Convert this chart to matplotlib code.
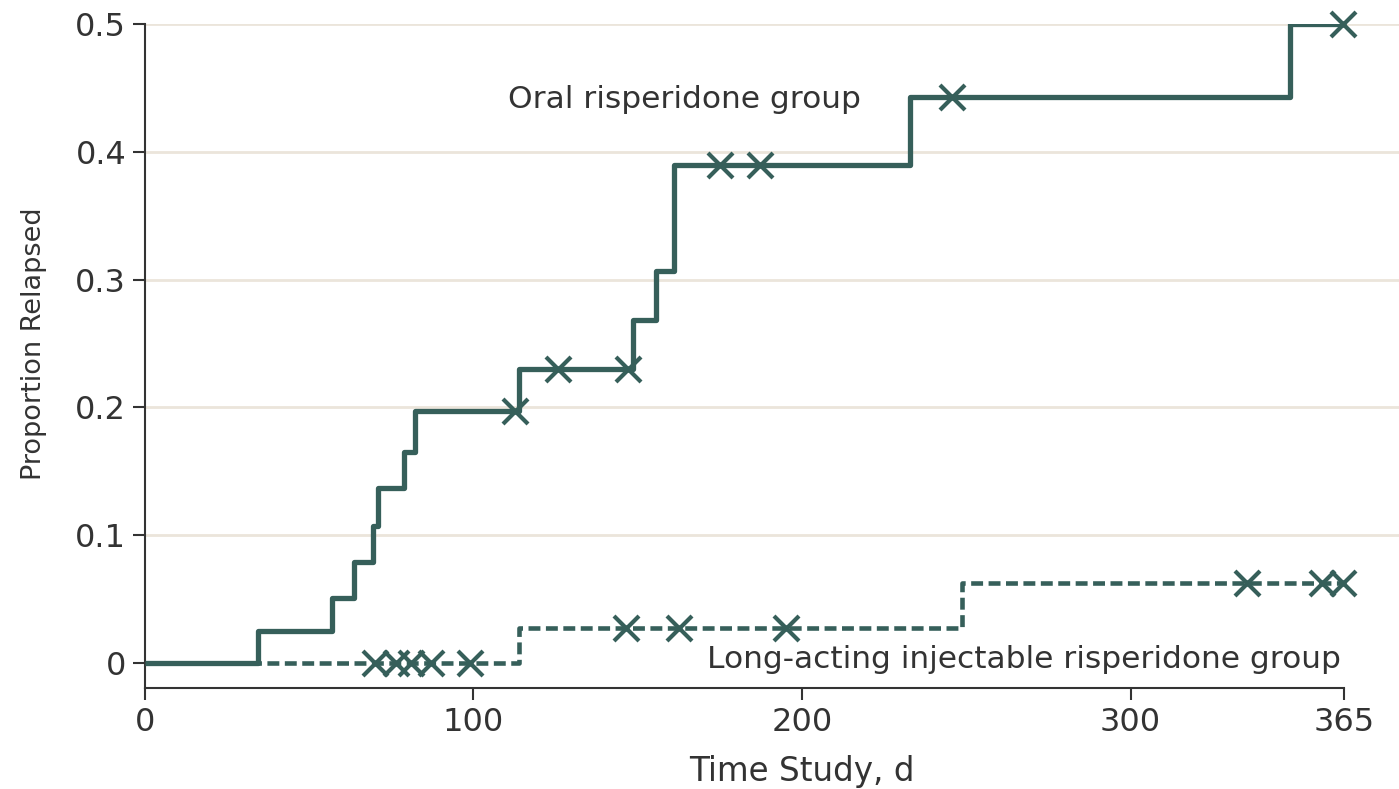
import matplotlib
matplotlib.use("Agg")
import matplotlib.pyplot as plt
import numpy as np

# === data ===
study_end = 365

oral_times = [0, 34.5, 57, 63.5, 69.5, 70.8, 78.8, 82.2, 114, 148.7, 155.6, 161, 232.9, 348.6]
oral_prop = [0, 0.025, 0.051, 0.079, 0.107, 0.137, 0.165, 0.197, 0.23, 0.268, 0.307, 0.39, 0.443, 0.5]
oral_censor = [112.6, 125.8, 146.9, 175, 187.2, 245.7, 364.7]

lai_times = [0, 114, 248.7]
lai_prop = [0, 0.0274, 0.0626]
lai_censor = [70, 76.5, 81, 87, 99, 146.4, 162.6, 195, 335.4, 358.2, 364.8]

x_ticks = [0, 100, 200, 300, 365]
y_ticks = [0, 0.1, 0.2, 0.3, 0.4, 0.5]
y_labels = ["0", "0.1", "0.2", "0.3", "0.4", "0.5"]

line_col = "#365f5a"
text_col = "#333333"
grid_col = "#ebe5db"

plt.rcParams["font.family"] = ["DejaVu Sans"]


def step_value(times, props, t):
    # value of the step curve (post) at time t
    idx = np.searchsorted(times, t, side="right") - 1
    return np.array(props)[idx]


fig = plt.figure(figsize=(13.99, 7.89), dpi=100)
ax = fig.add_axes([0.1036, 0.128, 1 - 0.1036, 0.9696 - 0.128])

# grid
for yv in y_ticks[1:]:
    ax.axhline(yv, color=grid_col, lw=2, zorder=0)

lw = 3.8
# oral group
ox = list(oral_times) + [study_end]
oy = list(oral_prop) + [oral_prop[-1]]
ax.step(ox, oy, where="post", color=line_col, lw=lw, zorder=3, solid_capstyle="butt")
ax.plot(oral_censor, step_value(oral_times, oral_prop, oral_censor), "x",
        color=line_col, ms=18, mew=3, zorder=4, clip_on=False)

# long-acting injectable group
lx = list(lai_times) + [study_end]
ly = list(lai_prop) + [lai_prop[-1]]
ax.step(lx, ly, where="post", color=line_col, lw=3.3, zorder=2,
        linestyle=(0, (2.6, 1.2)), dash_capstyle="butt")
ax.plot(lai_censor, step_value(lai_times, lai_prop, lai_censor), "x",
        color=line_col, ms=18, mew=3, zorder=4, clip_on=False)

ax.text(110.5, 0.441, "Oral risperidone group", fontsize=22.5, color=text_col,
        ha="left", va="center")
ax.text(364, 0.003, "Long-acting injectable risperidone group", fontsize=22.5,
        color=text_col, ha="right", va="center")

ax.set_xlim(0, 381.7)
ax.set_ylim(-0.0196, 0.5)
ax.set_xticks(x_ticks)
ax.set_yticks(y_ticks)
ax.set_yticklabels(y_labels)
ax.tick_params(axis="both", labelsize=23, colors=text_col, length=8.5, width=1.5,
               direction="out", pad=5)

for side in ["top", "right"]:
    ax.spines[side].set_visible(False)
ax.spines["bottom"].set_bounds(0, study_end)
for side in ["left", "bottom"]:
    ax.spines[side].set_color(text_col)
    ax.spines[side].set_linewidth(1.5)

ax.set_xlabel("Time Study, d", fontsize=23.5, color=text_col, labelpad=12.5)
ax.set_ylabel("Proportion Relapsed", fontsize=19.5, color=text_col, labelpad=20)
ax.xaxis.label.set_x(0.524)
ax.yaxis.label.set_y(0.518)

fig.savefig("out.png", dpi=100)
